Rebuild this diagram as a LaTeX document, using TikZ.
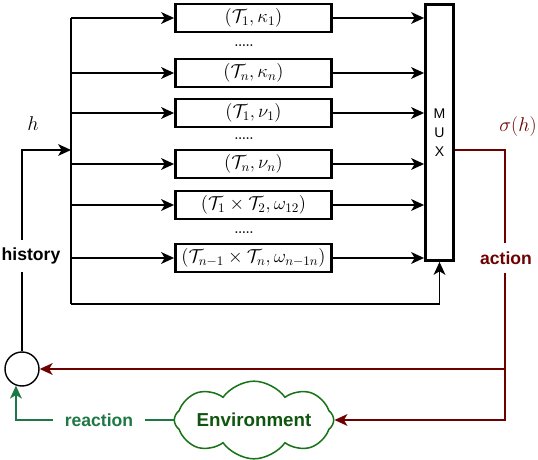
\RequirePackage{fix-cm}
\documentclass[tikz,border=0pt]{standalone}
\usepackage{fontspec}
\setsansfont{Liberation Sans}
\usetikzlibrary{arrows.meta,shapes.symbols}
\definecolor{actred}{RGB}{110,0,0}
\definecolor{envgreen}{RGB}{25,115,25}
\definecolor{envtext}{RGB}{15,85,15}
\definecolor{reactgreen}{RGB}{30,120,70}
\tikzset{
  pair/.style={draw,line width=2.4pt,minimum width=4.68cm,minimum height=0.84cm,
    inner sep=0pt,font=\fontsize{16}{18}\selectfont},
  dotrow/.style={inner sep=0pt,font=\fontsize{10}{12}\selectfont\bfseries},
  mux/.style={draw,line width=2.4pt,minimum width=0.84cm,minimum height=7.68cm,
    align=center,font=\sffamily\fontsize{12}{16.2}\selectfont},
  lbl/.style={fill=white,inner xsep=2pt,inner ysep=7pt,
    font=\sffamily\bfseries\fontsize{15}{18}\selectfont},
  mathlbl/.style={inner sep=1pt,font=\fontsize{17}{20}\selectfont},
}

\begin{document}
\begin{tikzpicture}[x=0.03cm,y=-0.03cm,line width=1.6pt,
  >={Stealth[length=11pt,width=10pt,inset=3pt]}]
\useasboundingbox (0,0) rectangle (538,460);

% option boxes
\node[pair] (k1) at (253.5,18) {$(\mathcal{T}_1,\kappa_1)$};
\node[pair] (kn) at (253.5,73) {$(\mathcal{T}_n,\kappa_n)$};
\node[pair] (v1) at (253.5,113) {$(\mathcal{T}_1,\nu_1)$};
\node[pair] (vn) at (253.5,164) {$(\mathcal{T}_n,\nu_n)$};
\node[pair] (w12) at (253.5,205) {$(\mathcal{T}_1\times\mathcal{T}_2,\omega_{12})$};
\node[pair] (wn) at (253.5,258) {$(\mathcal{T}_{n-1}\times\mathcal{T}_n,\omega_{n-1n})$};
\node[dotrow] (d1) at (244,46) {.....};
\node[dotrow] (d2) at (244,139) {.....};
\node[dotrow] (d3) at (244,233) {.....};

\node[mux] (mux) at (439.5,132.5) {M\\U\\X};
\node[draw,circle,line width=1.2pt,minimum size=1.02cm] (join) at (22,369) {};
\node[cloud,draw=envgreen,line width=1.3pt,cloud puffs=8,cloud puff arc=110,
  aspect=3.3,minimum width=4.3cm,minimum height=1.1cm,inner sep=0pt,text=envtext,
  font=\sffamily\bfseries\fontsize{16}{19}\selectfont] (env) at (254,420) {Environment};

% bus
\coordinate (bustop) at (71,18);
\coordinate (busbot) at (71,304);
\coordinate (hin) at (71,150);
\draw (bustop) -- (busbot);
\draw[->] (busbot) -| (mux.south);
\foreach \b in {k1,kn,v1,vn,w12,wn} {
  \draw[->] (bustop |- \b) -- (\b);
  \draw[->] (\b) -- (mux.west |- \b);
}

% history
\draw[->] (join) |- (hin);
\node[mathlbl] (hlab) at (33,124) {$h$};
\node[lbl] (hist) at (31,256) {history};

% action
\coordinate (corner) at (505,150);
\coordinate (split) at (505,369);
\draw[actred] (mux.east |- corner) -- (corner) -- (split);
\draw[->,actred] (split) |- (env.east);
\draw[->,actred] (split) -- (join);
\node[mathlbl,text=actred] (sig) at (518,127) {$\sigma(h)$};
\node[lbl,text=actred] (act) at (506,258) {action};

% reaction
\draw[->,reactgreen] (env.west) -| (join.250);
\node[lbl,text=reactgreen,inner xsep=10pt] (react) at (99,420) {reaction};
\end{tikzpicture}
\end{document}
